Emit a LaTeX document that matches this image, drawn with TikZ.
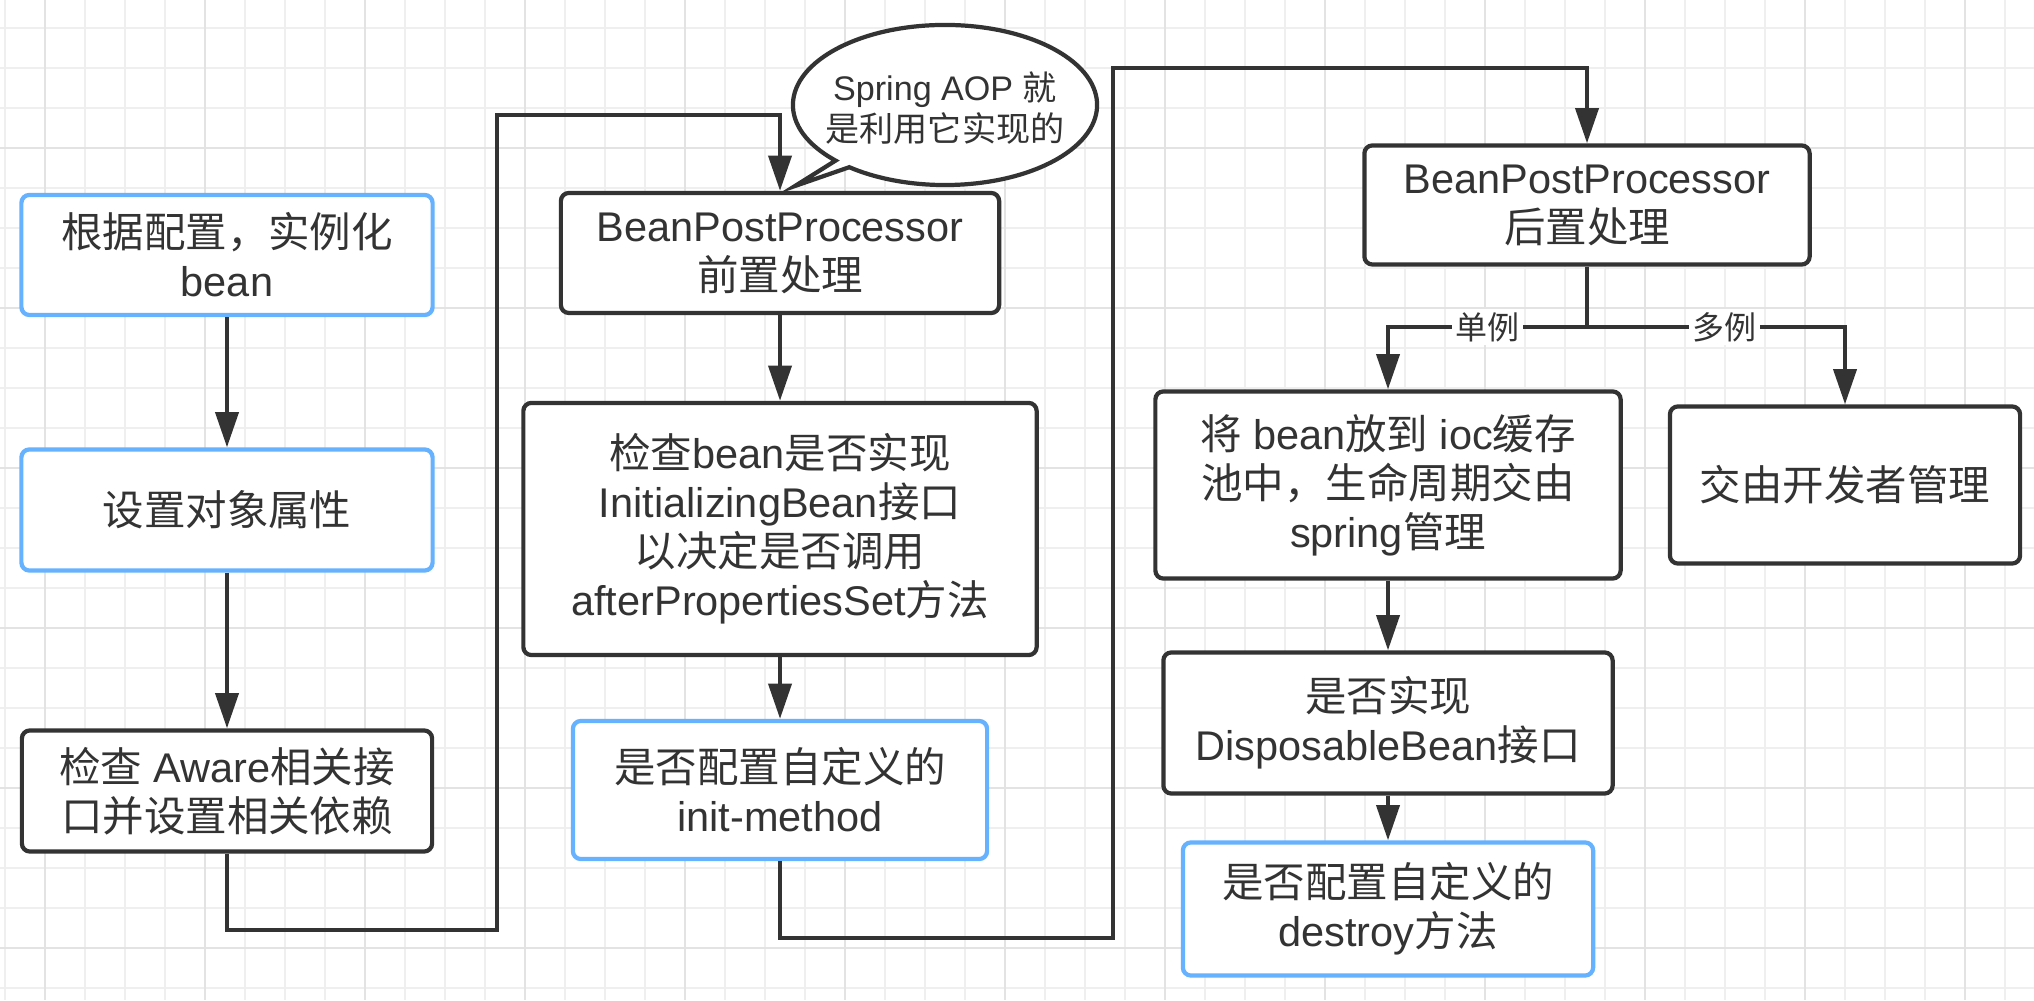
\documentclass[tikz,border=0pt]{standalone}
\usepackage{fontspec}
\setmainfont{Liberation Sans}
\newfontfamily\cjk{Noto Sans CJK SC}
\usetikzlibrary{arrows.meta, calc}
\definecolor{ink}{HTML}{333333}
\definecolor{cfgblue}{HTML}{66B2FF}
\definecolor{gridminor}{HTML}{EFEFEF}
\definecolor{gridmajor}{HTML}{E3E3E3}
\begin{document}
\begin{tikzpicture}[x=0.01cm, y=0.01cm,
    every node/.style={font=\fontsize{11.8}{13.9}\selectfont, text=ink},
    box/.style={draw=ink, line width=1.2pt, rounded corners=0.08cm, fill=white, align=center},
    bluebox/.style={box, draw=cfgblue},
    arr/.style={draw=ink, line width=1.2pt, -{Triangle[length=10pt, width=6.5pt]}},
    lbl/.style={fill=white, inner sep=1pt, font=\fontsize{9.1}{11}\selectfont}]
    \useasboundingbox (0,0) rectangle (2034,1000);
    \fill[white] (0,0) rectangle (2034,1000);
    \foreach \gx in {5,45,...,2034} \draw[gridminor, line width=0.35pt] (\gx,0) -- (\gx,1000);
    \foreach \gy in {12,52,...,1000} \draw[gridminor, line width=0.35pt] (0,\gy) -- (2034,\gy);
    \foreach \gx in {45,205,...,2034} \draw[gridmajor, line width=0.35pt] (\gx,0) -- (\gx,1000);
    \foreach \gy in {52,212,...,1000} \draw[gridmajor, line width=0.35pt] (0,\gy) -- (2034,\gy);

    \node[bluebox, minimum width=4.11cm, minimum height=1.2cm] (inst) at (227,745) {{\cjk 根据配置，实例化}\\bean};
    \node[bluebox, minimum width=4.11cm, minimum height=1.21cm] (props) at (227,490) {{\cjk 设置对象属性}};
    \node[box, minimum width=4.1cm, minimum height=1.21cm] (aware) at (227,209) {{\cjk 检查} Aware{\cjk 相关接}\\{\cjk 口并设置相关依赖}};

    \node[box, minimum width=4.38cm, minimum height=1.2cm] (pre) at (780,747) {BeanPostProcessor\\{\cjk 前置处理}};
    \node[box, minimum width=5.13cm, minimum height=2.52cm] (initbean) at (780,471) {{\cjk 检查}bean{\cjk 是否实现}\\InitializingBean{\cjk 接口}\\{\cjk 以决定是否调用}\\afterPropertiesSet{\cjk 方法}};
    \node[bluebox, minimum width=4.14cm, minimum height=1.38cm] (initm) at (780,210) {{\cjk 是否配置自定义的}\\init-method};

    \draw[ink, line width=1.2pt, fill=white] ($(945,895)+(231:1.52cm and 0.8cm)$) -- (795,814) -- ($(945,895)+(224:1.52cm and 0.8cm)$) arc[start angle=224, end angle=-129, x radius=1.52cm, y radius=0.8cm] -- cycle;
    \node[align=center, font=\fontsize{9.7}{11.6}\selectfont] (aop) at (945,892) {Spring AOP {\cjk 就}\\{\cjk 是利用它实现的}};

    \node[box, minimum width=4.45cm, minimum height=1.19cm] (post) at (1587,795) {BeanPostProcessor\\{\cjk 后置处理}};
    \node[box, minimum width=4.65cm, minimum height=1.87cm] (cache) at (1388,515) {{\cjk 将} bean{\cjk 放到} ioc{\cjk 缓存}\\{\cjk 池中，生命周期交由}\\spring{\cjk 管理}};
    \node[box, minimum width=3.5cm, minimum height=1.57cm] (dev) at (1845,515) {{\cjk 交由开发者管理}};
    \node[box, minimum width=4.49cm, minimum height=1.41cm] (disp) at (1388,277) {{\cjk 是否实现}\\DisposableBean{\cjk 接口}};
    \node[bluebox, minimum width=4.1cm, minimum height=1.33cm] (destroy) at (1388,91) {{\cjk 是否配置自定义的}\\destroy{\cjk 方法}};

    \draw[arr] (inst) -- (props);
    \draw[arr] (props) -- (aware);
    \draw[arr] (aware.south) -- ++(0,-76) -| (497,885) -| (pre.north);
    \draw[arr] (pre) -- (initbean);
    \draw[arr] (initbean) -- (initm);
    \draw[arr] (initm.south) -- ++(0,-77) -| (1113,932) -| (post.north);
    \coordinate (split) at (1587,673);
    \draw[ink, line width=1.2pt] (post.south) -- (split);
    \draw[arr] (split) -| node[lbl, pos=0.25] {{\cjk 单例}} (cache.north);
    \draw[arr] (split) -| node[lbl, pos=0.267] {{\cjk 多例}} (dev.north);
    \draw[arr] (cache) -- (disp);
    \draw[arr] (disp) -- (destroy);
\end{tikzpicture}
\end{document}
